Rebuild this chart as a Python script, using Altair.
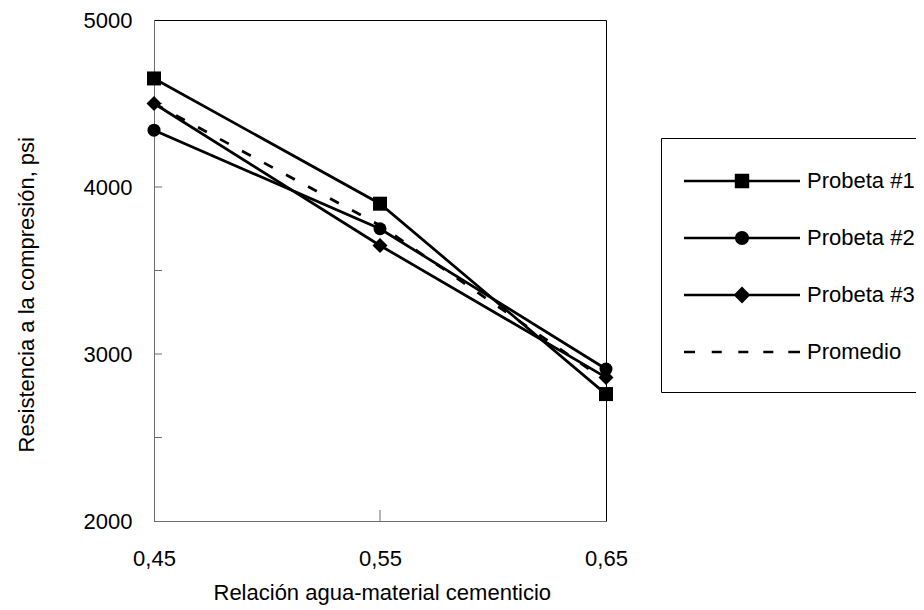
import math
import altair as alt
import pandas as pd

# ---------------- data ----------------
ratio = [0.45, 0.55, 0.65]
probeta1 = [4650, 3900, 2760]
probeta2 = [4340, 3750, 2910]
probeta3 = [4500, 3650, 2860]
promedio = [4500, 3770, 2840]
series_names = ["Probeta #1", "Probeta #2", "Probeta #3", "Promedio"]
y_label_values = [2000, 3000, 4000, 5000]
y_minor_ticks = [2500, 3000, 3500, 4000, 4500]
x_label_values = [0.45, 0.55, 0.65]
x_inner_ticks = [0.55]

rows = []
for name, vals in zip(series_names, [probeta1, probeta2, probeta3, promedio]):
    for r, v in zip(ratio, vals):
        rows.append({"serie": name, "ratio": r, "valor": v})
df = pd.DataFrame(rows)

FONT = "Liberation Sans"
W, H = 452, 501
AXIS_GRAY = "#6e6e6e"

xscale = alt.Scale(domain=[0.45, 0.65], nice=False, zero=False)
yscale = alt.Scale(domain=[2000, 5000], nice=False, zero=False)

# ---------------- legend symbol paths (unit = sqrt(size)/2 px) ----------------
def f(v):
    return f"{v:.3f}"

def rect(x0, y0, x1, y1):
    return f"M{f(x0)},{f(y0)}L{f(x1)},{f(y0)}L{f(x1)},{f(y1)}L{f(x0)},{f(y1)}Z"

L0, L1 = -1.0, 15.57
MID = (L0 + L1) / 2
T = 0.19
E = 2.86  # invisible downward extent (spacing inside the legend box)
line_path = rect(L0, -T, L1, T)
extent = f"M{f(MID)},{f(E)}"
sq = 1.03
square_path = line_path + rect(MID - sq, -sq, MID + sq, sq)
rc = 1.0
circ = "M" + "L".join(
    f"{f(MID + rc * math.cos(2 * math.pi * k / 32))},{f(rc * math.sin(2 * math.pi * k / 32))}"
    for k in range(32)) + "Z"
circle_path = line_path + circ
rd = 1.2
diamond_path = line_path + f"M{f(MID)},{f(-rd)}L{f(MID + rd)},0L{f(MID)},{f(rd)}L{f(MID - rd)},0Z"
dashes = [(-1.0, 0.57), (2.96, 4.39), (6.76, 8.19), (10.33, 11.76), (13.9, 15.57)]
dash_path = "".join(rect(a, -T, b, T) for a, b in dashes)
legend_paths = [p + extent for p in [square_path, circle_path, diamond_path, dash_path]]

# ---------------- layers ----------------
base = alt.Chart(df)

x_axis = alt.Axis(values=x_label_values,
                  labelExpr="replace(format(datum.value, '.2f'), '.', ',')",
                  labelFont=FONT, labelFontSize=22, labelColor="black",
                  labelPadding=27, labelFlush=False, labelOverlap=False,
                  ticks=False, grid=False, domainColor=AXIS_GRAY,
                  title="Relación agua-material cementicio",
                  titleFont=FONT, titleFontSize=22, titleFontWeight="normal",
                  titleColor="black", titleX=59, titleY=78,
                  titleAlign="left", titleBaseline="alphabetic")
y_axis = alt.Axis(values=y_label_values, format="d",
                  labelFont=FONT, labelFontSize=22, labelColor="black",
                  labelPadding=22, labelFlush=False, labelOverlap=False,
                  ticks=False, grid=False, domainColor=AXIS_GRAY,
                  title="Resistencia a la compresión, psi",
                  titleFont=FONT, titleFontSize=22, titleFontWeight="normal",
                  titleColor="black", titleAngle=270, titleX=-121, titleY=432,
                  titleAlign="left", titleBaseline="alphabetic")

avg_line = base.transform_filter(alt.datum.serie == "Promedio").mark_line(
    color="black", strokeWidth=2.75, strokeDash=[10, 15]
).encode(
    x=alt.X("ratio:Q", scale=xscale, axis=x_axis),
    y=alt.Y("valor:Q", scale=yscale, axis=y_axis),
)

solid_lines = base.transform_filter(alt.datum.serie != "Promedio").mark_line(
    color="black", strokeWidth=2.75
).encode(
    x=alt.X("ratio:Q", scale=xscale),
    y=alt.Y("valor:Q", scale=yscale),
    detail="serie:N",
)

def pts(name, shape, size):
    return base.transform_filter(alt.datum.serie == name).mark_point(
        shape=shape, size=size, filled=True, color="black", opacity=1
    ).encode(x=alt.X("ratio:Q", scale=xscale), y=alt.Y("valor:Q", scale=yscale))

p1 = pts("Probeta #1", "square", 196)
p2 = pts("Probeta #2", "circle", 169)
p3 = pts("Probeta #3", "diamond", 225)

# layer with no rows that only carries the legend
legend_layer = base.transform_filter("false").mark_point(
    filled=True, color="black", opacity=1, size=196
).encode(
    x=alt.X("ratio:Q", scale=xscale),
    y=alt.Y("valor:Q", scale=yscale),
    shape=alt.Shape("serie:N",
                    scale=alt.Scale(domain=series_names, range=legend_paths),
                    legend=alt.Legend(title=" ", titleFontSize=1, titlePadding=12,
                                      orient="none", legendX=507, legendY=118,
                                      padding=19, strokeColor="black", fillColor="white",
                                      labelFont=FONT, labelFontSize=22, labelColor="black",
                                      labelOffset=105, labelLimit=400, rowPadding=25,
                                      symbolSize=196, symbolStrokeWidth=0,
                                      symbolFillColor="black", symbolOpacity=1)),
)

yticks = alt.Chart(pd.DataFrame({"valor": y_minor_ticks})).mark_rule(
    color=AXIS_GRAY, strokeWidth=1
).encode(y=alt.Y("valor:Q", scale=yscale), x=alt.value(0), x2=alt.value(8))

xticks = alt.Chart(pd.DataFrame({"ratio": x_inner_ticks})).mark_rule(
    color=AXIS_GRAY, strokeWidth=1
).encode(x=alt.X("ratio:Q", scale=xscale), y=alt.value(H), y2=alt.value(H - 11))

chart = alt.layer(yticks, xticks, avg_line, solid_lines, p1, p2, p3, legend_layer).properties(
    width=W, height=H,
    autosize=alt.AutoSizeParams(type="none"),
    padding={"left": 146, "top": 12, "right": 310, "bottom": 84},
    background="white",
).configure_view(stroke="black", strokeWidth=1)

chart.save("out.html", embed_options={"renderer": "svg", "actions": False})
